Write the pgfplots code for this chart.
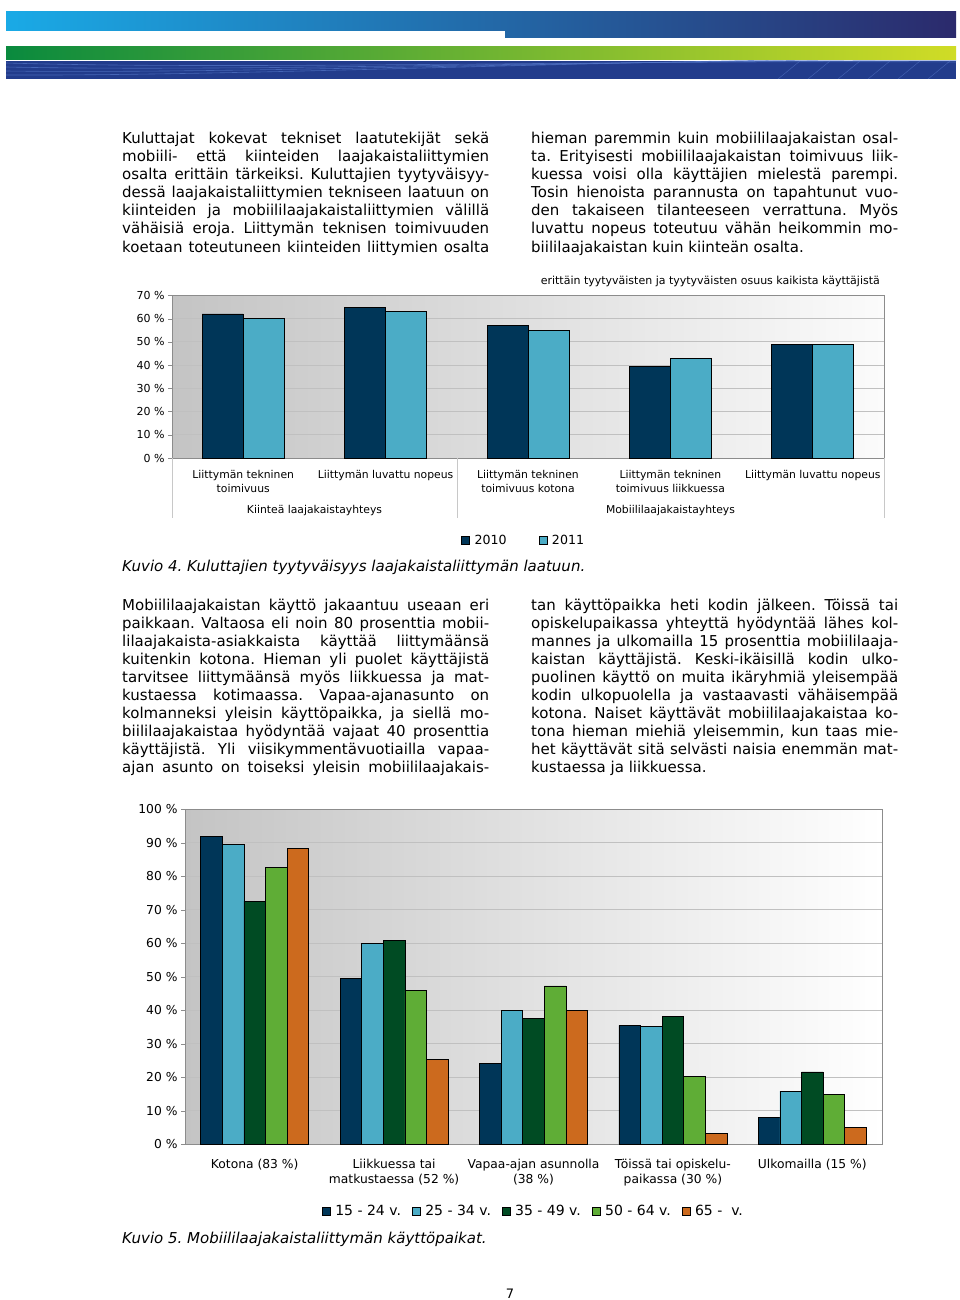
\documentclass[border=0pt]{standalone}
\usepackage{fontspec}
\setmainfont{DejaVu Sans}
\usepackage{pgfplots}
\pgfplotsset{compat=1.18}

\definecolor{navyA}{HTML}{003658}
\definecolor{cyanA}{HTML}{4BACC6}
\definecolor{greenD}{HTML}{004B23}
\definecolor{greenL}{HTML}{5FAD36}
\definecolor{orangeA}{HTML}{CC6A1E}
\definecolor{bgL}{HTML}{C4C4C4}
\definecolor{bgR}{HTML}{FBFBFB}
\definecolor{gridc}{HTML}{C0C0C0}
\definecolor{axc}{HTML}{8C8C8C}
\definecolor{sepc}{HTML}{C8C8C8}
\definecolor{hbL}{HTML}{1AAAE6}
\definecolor{hbM}{HTML}{0A62A8}
\definecolor{hbR}{HTML}{2B2A6C}
\definecolor{hgL}{HTML}{0A8A3E}
\definecolor{hgM}{HTML}{6DB23A}
\definecolor{hgR}{HTML}{D0DC26}
\definecolor{hnav}{HTML}{223C8C}
\definecolor{hlin}{HTML}{5577C8}

\newcommand{\fs}[2]{\fontsize{#1}{#2}\selectfont}
\newlength{\colw}\setlength{\colw}{367pt}
% one justified line of body text, and the closing line of a paragraph
\newcommand{\jl}[1]{\noindent\makebox[\colw][s]{#1}\par}
\newcommand{\el}[1]{\noindent #1\par}
\frenchspacing

\pgfplotsset{sqlegend/.style={legend image code/.code={%
  \path[draw=none, fill=none] (0pt,0pt) -- (11pt,0pt);
  \draw[##1, draw=black, line width=0.5pt] (0pt,-4pt) rectangle (8pt,4pt);}}}

\begin{document}
\begin{tikzpicture}[x=1pt,y=1pt]
% page
\fill[white] (0,0) rectangle (960,-1300);
\useasboundingbox (0,0) rectangle (960,-1300);

% header bars
\shade[left color=hbL, middle color=hbM, right color=hbR] (6,-12) rectangle (956,-38);
\fill[white] (6,-31) rectangle (505,-38.5);
\shade[left color=hgL, middle color=hgM, right color=hgR] (6,-47) rectangle (956,-60);
\fill[hnav] (6,-61) rectangle (956,-79);
\begin{scope}
\clip (6,-61) rectangle (956,-79);
\foreach \d in {0,4,8,12} {
  \draw[hlin, line width=0.6pt, opacity=0.7] (6,-63-\d) .. controls (250,-70-\d/2) and (600,-60) .. (956,-62+\d/3);
}
\foreach \xx in {800,830,860,890,920,950} {
  \draw[hlin, line width=0.5pt, opacity=0.6] (\xx,-61) -- (\xx-22,-79);
}
\end{scope}

% body text, first pair of columns
\node[anchor=base west, inner sep=0] at (122,-144) {\parbox[t]{\colw}{\fs{15}{18}%
\jl{Kuluttajat kokevat tekniset laatutekijät sekä}
\jl{mobiili- että kiinteiden laajakaistaliittymien}
\jl{osalta erittäin tärkeiksi. Kuluttajien tyytyväisyy-}
\jl{dessä laajakaistaliittymien tekniseen laatuun on}
\jl{kiinteiden ja mobiililaajakaistaliittymien välillä}
\jl{vähäisiä eroja. Liittymän teknisen toimivuuden}
\jl{koetaan toteutuneen kiinteiden liittymien osalta}}};
\node[anchor=base west, inner sep=0] at (531,-144) {\parbox[t]{\colw}{\fs{15}{18}%
\jl{hieman paremmin kuin mobiililaajakaistan osal-}
\jl{ta. Erityisesti mobiililaajakaistan toimivuus liik-}
\jl{kuessa voisi olla käyttäjien mielestä parempi.}
\jl{Tosin hienoista parannusta on tapahtunut vuo-}
\jl{den takaiseen tilanteeseen verrattuna. Myös}
\jl{luvattu nopeus toteutuu vähän heikommin mo-}
\el{biililaajakaistan kuin kiinteän osalta.}}};

% chart 1
\begin{axis}[
  at={(172pt,-458pt)}, anchor=south west,
  scale only axis, width=712pt, height=162.6pt,
  ybar=0pt, bar width=41pt,
  xmin=-0.5, xmax=4.5, ymin=0, ymax=70,
  xtick={0,1,2,3,4},
  xticklabels={{Liittymän tekninen\\toimivuus},{Liittymän luvattu nopeus},{Liittymän tekninen\\toimivuus kotona},{Liittymän tekninen\\toimivuus liikkuessa},{Liittymän luvattu nopeus}},
  xticklabel style={align=center, font=\fs{10.8}{14}, yshift=-5pt},
  xtick style={draw=none},
  ytick={0,10,20,30,40,50,60,70},
  yticklabels={0 \%,10 \%,20 \%,30 \%,40 \%,50 \%,60 \%,70 \%},
  yticklabel style={font=\fs{11}{13}},
  ytick pos=left,
  ytick style={axc}, tick align=outside, major tick length=4pt,
  ymajorgrids, grid style={gridc, line width=0.8pt},
  axis line style={axc, line width=0.8pt},
  axis background/.style={shade, left color=bgL, right color=bgR},
  sqlegend,
  legend style={draw=none, fill=none, at={(0.494,-0.506)}, anchor=center,
    legend columns=-1, font=\fs{12.6}{14},
    /tikz/every even column/.append style={column sep=30pt}},
]
\addplot[fill=navyA, draw=black, line width=0.7pt] coordinates {(0,62) (1,65) (2,57) (3,39.3) (4,49)};
\addplot[fill=cyanA, draw=black, line width=0.7pt] coordinates {(0,60) (1,63) (2,55) (3,43) (4,49)};
\legend{2010,2011}
\end{axis}
\draw[sepc, line width=0.8pt] (172,-458) -- (172,-518);
\draw[sepc, line width=0.8pt] (457,-458) -- (457,-518);
\draw[sepc, line width=0.8pt] (884,-458) -- (884,-518);
\node[font=\fs{10.8}{14}] at (314.5,-510.5) {Kiinteä laajakaistayhteys};
\node[font=\fs{10.8}{14}] at (670.5,-510.5) {Mobiililaajakaistayhteys};
\node[anchor=base east, inner sep=0, font=\fs{11}{13}] at (880,-284.5) {erittäin tyytyväisten ja tyytyväisten osuus kaikista käyttäjistä};

\node[anchor=base west, inner sep=0, font=\fs{15}{18}\itshape] at (122,-571) {Kuvio 4. Kuluttajien tyytyväisyys laajakaistaliittymän laatuun.};

% body text, second pair of columns
\node[anchor=base west, inner sep=0] at (122,-610) {\parbox[t]{\colw}{\fs{15}{18}%
\jl{Mobiililaajakaistan käyttö jakaantuu useaan eri}
\jl{paikkaan. Valtaosa eli noin 80 prosenttia mobii-}
\jl{lilaajakaista-asiakkaista käyttää liittymäänsä}
\jl{kuitenkin kotona. Hieman yli puolet käyttäjistä}
\jl{tarvitsee liittymäänsä myös liikkuessa ja mat-}
\jl{kustaessa kotimaassa. Vapaa-ajanasunto on}
\jl{kolmanneksi yleisin käyttöpaikka, ja siellä mo-}
\jl{biililaajakaistaa hyödyntää vajaat 40 prosenttia}
\jl{käyttäjistä. Yli viisikymmentävuotiailla vapaa-}
\jl{ajan asunto on toiseksi yleisin mobiililaajakais-}}};
\node[anchor=base west, inner sep=0] at (531,-610) {\parbox[t]{\colw}{\fs{15}{18}%
\jl{tan käyttöpaikka heti kodin jälkeen. Töissä tai}
\jl{opiskelupaikassa yhteyttä hyödyntää lähes kol-}
\jl{mannes ja ulkomailla 15 prosenttia mobiililaaja-}
\jl{kaistan käyttäjistä. Keski-ikäisillä kodin ulko-}
\jl{puolinen käyttö on muita ikäryhmiä yleisempää}
\jl{kodin ulkopuolella ja vastaavasti vähäisempää}
\jl{kotona. Naiset käyttävät mobiililaajakaistaa ko-}
\jl{tona hieman miehiä yleisemmin, kun taas mie-}
\jl{het käyttävät sitä selvästi naisia enemmän mat-}
\el{kustaessa ja liikkuessa.}}};

% chart 2
\begin{axis}[
  at={(185pt,-1144.3pt)}, anchor=south west,
  scale only axis, width=697pt, height=335pt,
  ybar=0pt, bar width=21.6pt,
  xmin=-0.5, xmax=4.5, ymin=0, ymax=100,
  xtick={0,1,2,3,4},
  xticklabels={{Kotona (83 \%)},{Liikkuessa tai\\matkustaessa (52 \%)},{Vapaa-ajan asunnolla\\(38 \%)},{Töissä tai opiskelu-\\paikassa (30 \%)},{Ulkomailla (15 \%)}},
  xticklabel style={align=center, font=\fs{12.3}{15}, yshift=-7pt},
  xtick style={draw=none},
  ytick={0,10,...,100},
  yticklabels={0 \%,10 \%,20 \%,30 \%,40 \%,50 \%,60 \%,70 \%,80 \%,90 \%,100 \%},
  yticklabel style={font=\fs{12.3}{14}},
  ytick pos=left,
  ytick style={axc}, tick align=outside, major tick length=4pt,
  ymajorgrids, grid style={gridc, line width=0.8pt},
  axis line style={axc, line width=0.8pt},
  axis background/.style={shade, left color=bgL, right color=white},
  sqlegend,
  legend style={draw=none, fill=none, at={(0.5,-0.199)}, anchor=center,
    legend columns=-1, font=\fs{14}{15},
    /tikz/every even column/.append style={column sep=9pt}},
]
\addplot[fill=navyA, draw=black, line width=0.7pt] coordinates {(0,92) (1,49.4) (2,24.2) (3,35.5) (4,8.1)};
\addplot[fill=cyanA, draw=black, line width=0.7pt] coordinates {(0,89.5) (1,60) (2,39.9) (3,35.2) (4,15.9)};
\addplot[fill=greenD, draw=black, line width=0.7pt] coordinates {(0,72.6) (1,60.9) (2,37.6) (3,38.3) (4,21.6)};
\addplot[fill=greenL, draw=black, line width=0.7pt] coordinates {(0,82.7) (1,45.9) (2,47.3) (3,20.3) (4,14.8)};
\addplot[fill=orangeA, draw=black, line width=0.7pt] coordinates {(0,88.4) (1,25.3) (2,39.9) (3,3.2) (4,5.1)};
\legend{15 - 24 v.,25 - 34 v.,35 - 49 v.,50 - 64 v.,65 -\ \ v.}
\end{axis}

\node[anchor=base west, inner sep=0, font=\fs{15}{18}\itshape] at (122,-1243) {Kuvio 5. Mobiililaajakaistaliittymän käyttöpaikat.};
\node[anchor=base, inner sep=0, font=\fs{13}{15}] at (510,-1298) {7};
\end{tikzpicture}
\end{document}
